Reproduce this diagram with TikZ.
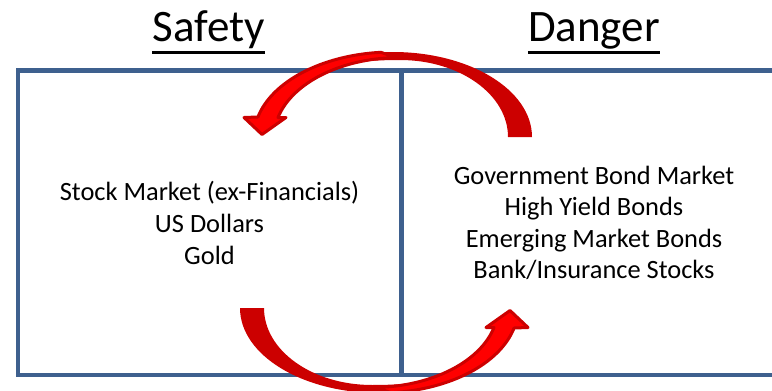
\documentclass[tikz,border=0pt]{standalone}
\usepackage{fontspec}
\setmainfont{Carlito}
\definecolor{frameblue}{RGB}{62,96,142}
\definecolor{darkred}{RGB}{204,0,0}
\definecolor{brightred}{RGB}{255,0,0}
\tikzset{
  frameline/.style={draw=frameblue,line width=4.5pt},
  body/.style={inner sep=0pt,anchor=base,font=\fontsize{26.4}{31}\selectfont},
  heading/.style={inner sep=0pt,anchor=base,font=\fontsize{45}{50}\selectfont},
  uline/.style={draw=black,line width=3.5pt},
  backband/.style={fill=darkred},
  frontband/.style={fill=brightred,draw=darkred,line width=3pt,line join=round},
}
\newcommand\cvarrow{%
  \fill[backband] (532,137) arc[start angle=0,end angle=-150,x radius=139,y radius=85]
     .. controls (300,70) and (340,60) .. (400,60)
     arc[start angle=-90,end angle=0,x radius=108,y radius=77] -- cycle;
  \filldraw[frontband] (380.9,52.3) arc[start angle=-95,end angle=-166.4,x radius=139,y radius=85]
     -- (244,117.5) -- (262,134.5) -- (286,117.5) -- (278,117.5)
     arc[start angle=-165.5,end angle=-92,x radius=126,y radius=80] -- cycle;
}
\begin{document}
\begin{tikzpicture}[x=1pt,y=-1pt]
\useasboundingbox (0,0) rectangle (772,391);
\clip (0,0) rectangle (772,391);
% frame
\draw[frameline] (18,70.5) rectangle (800,375);
\draw[frameline] (401.5,70.5) -- (401.5,375);
% titles
\node[heading] (safety) at (208.5,41.5) {Safety};
\node[heading] (danger) at (594,41.5) {Danger};
\draw[uline] ([yshift=-11pt]safety.base west) -- ([yshift=-11pt]safety.base east);
\draw[uline] ([yshift=-11pt]danger.base west) -- ([yshift=-11pt]danger.base east);
% arrows
\cvarrow
\begin{scope}[rotate around={180:(386,222.5)}]
\cvarrow
\end{scope}
% texts
\node[body] (l1) at (209.5,200) {Stock Market (ex-Financials)};
\node[body] (l2) at (209.5,232) {US Dollars};
\node[body] (l3) at (209.5,264) {Gold};
\node[body] (r1) at (594,184.5) {Government Bond Market};
\node[body] (r2) at (594,215.8) {High Yield Bonds};
\node[body] (r3) at (594,247) {Emerging Market Bonds};
\node[body] (r4) at (594,278.3) {Bank/Insurance Stocks};
\end{tikzpicture}
\end{document}
